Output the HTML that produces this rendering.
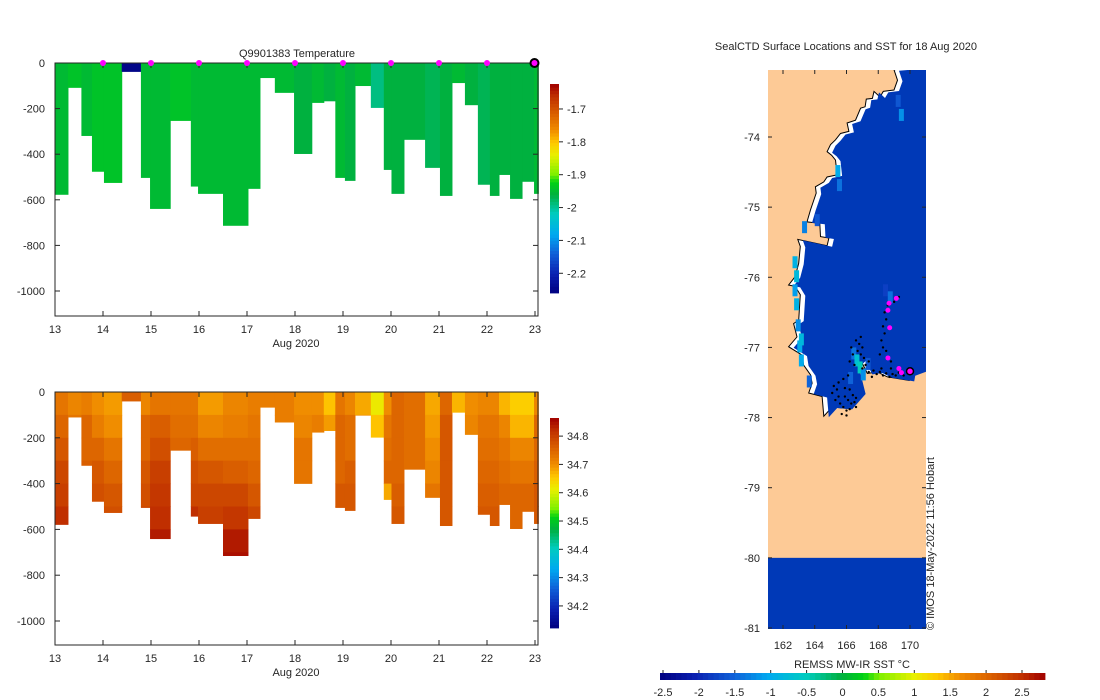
<!DOCTYPE html>
<html><head><meta charset="utf-8"><style>
body{margin:0;background:#fff;}
svg{display:block;font-family:"Liberation Sans",sans-serif;}
text{fill:#262626;font-size:11px;}
</style></head><body>
<svg id="fig" width="1100" height="700" viewBox="0 0 1100 700">
<defs><clipPath id="mapclip"><rect x="768" y="70" width="158" height="559"/></clipPath></defs>
</svg>
<script>
// ---- data ----
const colEdges = [13.006,13.27,13.55,13.77,14.02,14.39,14.79,14.98,15.40,15.83,15.98,16.50,17.02,17.27,17.58,17.98,18.35,18.60,18.84,19.04,19.25,19.58,19.85,20.01,20.27,20.71,21.02,21.27,21.54,21.81,22.06,22.25,22.48,22.73,22.98,23.07];
const colDepth = [578,109,320,477,526,39,504,640,254,542,574,714,552,66,131,399,175,168,504,517,101,197,469,574,337,460,583,88,185,534,583,491,596,521,574];
const colTemp = [-1.95,-1.94,-1.95,-1.94,-1.94,-2.25,-1.95,-1.95,-1.94,-1.95,-1.95,-1.95,-1.95,-1.95,-1.95,-1.96,-1.95,-1.96,-1.95,-1.96,-1.95,-1.99,-1.96,-1.96,-1.96,-1.97,-1.96,-1.95,-1.96,-1.97,-1.96,-1.96,-1.96,-1.96,-1.95];
const colSal = [
[34.73,34.75,34.77,34.79,34.80,34.82],[34.71,34.73],[34.72,34.75,34.75,34.76],[34.70,34.72,34.75,34.77,34.78],
[34.69,34.70,34.73,34.75,34.77,34.78],[34.76],[34.71,34.75,34.75,34.77,34.78,34.79],[34.73,34.76,34.78,34.80,34.81,34.82,34.84],
[34.73,34.74,34.75],[34.73,34.74,34.76,34.78,34.79,34.82],[34.69,34.71,34.74,34.77,34.79,34.80],[34.71,34.72,34.74,34.76,34.79,34.81,34.84,34.85],
[34.72,34.73,34.74,34.75,34.77,34.79],[34.72],[34.72,34.72],[34.70,34.71,34.73,34.73],[34.70,34.72],[34.66,34.69],
[34.73,34.75,34.75,34.75,34.77,34.77],[34.71,34.74,34.74,34.76,34.77,34.77],[34.68,34.70],[34.62,34.66],
[34.70,34.73,34.74,34.75,34.68],[34.75,34.75,34.75,34.75,34.76,34.77],[34.74,34.74,34.74,34.74],[34.68,34.69,34.70,34.71,34.73],
[34.75,34.77,34.77,34.77,34.77,34.77],[34.67],[34.70,34.71],[34.71,34.73,34.74,34.75,34.76,34.77],
[34.71,34.73,34.74,34.75,34.76,34.77],[34.67,34.71,34.73,34.74,34.75],[34.65,34.67,34.71,34.73,34.75,34.75],[34.65,34.67,34.71,34.73,34.75,34.75],
[34.71,34.75,34.75,34.76,34.77,34.77]];
const markerDays = [14,15,16,17,18,19,20,21,22];
const lastDay = 23;
const dayTicks = [13,14,15,16,17,18,19,20,21,22,23];
const depthTicks = [0,-200,-400,-600,-800,-1000];
const tempTicks = [-1.7,-1.8,-1.9,-2,-2.1,-2.2];
const salTicks = [34.8,34.7,34.6,34.5,34.4,34.3,34.2];
const latTicks = [-74,-75,-76,-77,-78,-79,-80,-81];
const lonTicks = [162,164,166,168,170];
const sstTicks = [-2.5,-2,-1.5,-1,-0.5,0,0.5,1,1.5,2,2.5];
const coastLon = [168.99,169.21,168.99,168.32,168.11,167.73,167.63,167.25,167.17,166.89,166.57,166.04,166.15,165.62,165.31,164.99,164.78,165.06,165.31,165.41,164.78,164.57,164.04,164.09,163.73,163.51,164.32,164.36,164.89,164.78,162.93,163.09,162.99,162.77,162.35,162.77,163.09,162.99,162.67,162.88,162.35,163.20,163.30,163.73,163.83,163.62,164.46,164.57,165.10,166.04,166.89,166.68,166.47,166.89,167.31,167.94,168.58,169.95,170.01,171.06];
const coastLat = [-73.04,-73.19,-73.33,-73.35,-73.43,-73.35,-73.45,-73.46,-73.57,-73.59,-73.76,-73.80,-73.92,-73.95,-74.04,-74.11,-74.21,-74.26,-74.33,-74.54,-74.57,-74.64,-74.71,-74.80,-75.04,-75.21,-75.23,-75.42,-75.44,-75.55,-75.46,-75.56,-75.80,-75.99,-76.11,-76.13,-76.25,-76.61,-76.66,-76.85,-76.99,-77.11,-77.25,-77.39,-77.51,-77.65,-77.70,-77.98,-77.85,-77.87,-77.65,-77.46,-77.27,-77.18,-77.37,-77.35,-77.42,-77.47,-77.39,-77.30];
const sstLon = [162.6,162.7,162.6,162.7,162.8,162.9,163.0,163.5,166.3,166.5,166.7,166.9,167.2,166.1,168.3,168.6,165.3,165.4,164.0,169.1,169.3,163.2,163.0];
const sstLat = [-75.7,-75.9,-76.1,-76.3,-76.6,-76.9,-77.1,-77.4,-77.0,-77.1,-77.2,-77.3,-77.15,-77.35,-76.1,-76.2,-74.4,-74.6,-75.1,-73.4,-73.6,-75.2,-76.8];
const sstVal = [-0.9,-0.8,-1.1,-0.9,-1.2,-1.0,-1.0,-1.5,-1.4,-0.7,-0.5,-1.2,-1.6,-1.5,-1.8,-1.4,-1.0,-1.4,-1.6,-1.6,-1.2,-1.3,-0.8];
const trackLon = [165.2,165.4,165.5,165.3,165.6,165.8,166.0,166.2,165.9,166.1,166.3,166.5,166.4,166.6,165.7,166.0,165.1,165.5,165.8,166.1,166.2,165.9,166.6,166.6,166.8,167.0,166.7,166.9,167.1,166.4,166.2,166.5,167.2,167.4,166.9,167.0,166.3,167.4,167.7,167.9,168.1,168.3,168.5,168.7,168.9,169.1,169.3,169.6,167.6,168.2,168.8,168.4,168.5,168.3,168.4,168.2,168.3,168.5,168.6,168.8,169.3,169.0,168.6,168.1];
const trackLat = [-77.55,-77.6,-77.7,-77.75,-77.8,-77.85,-77.9,-77.88,-77.7,-77.75,-77.8,-77.78,-77.68,-77.72,-77.95,-77.97,-77.65,-77.5,-77.45,-77.4,-77.6,-77.58,-77.85,-76.9,-76.95,-77.0,-77.05,-77.1,-77.15,-77.1,-77.2,-77.25,-77.25,-77.2,-76.85,-77.3,-77.0,-77.35,-77.33,-77.38,-77.35,-77.4,-77.37,-77.42,-77.38,-77.4,-77.36,-77.4,-77.42,-77.3,-77.3,-76.5,-76.6,-76.7,-76.8,-76.9,-77.0,-77.05,-77.15,-77.2,-76.28,-76.35,-76.4,-77.1];
const surfLon = [169.14,168.68,168.61,168.72,168.61,169.3,169.46];
const surfLat = [-76.30,-76.37,-76.47,-76.72,-77.15,-77.30,-77.36];
const latestLon = 170.0, latestLat = -77.34;

// ---- helpers ----
const NS = "http://www.w3.org/2000/svg";
const svgRoot = document.getElementById('fig');
function mk(tag, attrs, parent){ const e=document.createElementNS(NS,tag); for(const k in attrs) e.setAttribute(k,attrs[k]); (parent||svgRoot).appendChild(e); return e; }
const cstops=[[0,[0,0,128]],[0.09,[10,32,176]],[0.19,[16,96,216]],[0.28,[0,168,240]],[0.38,[0,204,192]],[0.47,[0,176,64]],[0.53,[0,210,20]],[0.57,[128,240,0]],[0.66,[232,240,0]],[0.72,[255,200,0]],[0.78,[240,140,0]],[0.85,[220,100,0]],[0.94,[192,48,0]],[1,[160,0,0]]];
function cmap(t){ t=Math.max(0,Math.min(1,t)); for(let i=1;i<cstops.length;i++){ if(t<=cstops[i][0]){ const a=cstops[i-1],b=cstops[i]; const f=(t-a[0])/(b[0]-a[0]); const c=a[1].map((v,j)=>Math.round(v+(b[1][j]-v)*f)); return `rgb(${c[0]},${c[1]},${c[2]})`; } } return 'rgb(160,0,0)'; }

function section(y0, yscale){
  const X = d => 55 + (d-13)*48;
  const Y = z => y0 + (-z)*yscale;
  return {X,Y};
}
const secTop = section(63,0.228), secBot = section(392,0.229);
const tMin=-2.26, tMax=-1.624, sMin=34.122, sMax=34.864;

const gT = mk('g',{});


for(let i=0;i<colDepth.length;i++){
  const x0=secTop.X(colEdges[i]), x1=secTop.X(colEdges[i+1]);
  const r=mk('rect',{x:x0,y:secTop.Y(0),width:x1-x0+0.5,height:secTop.Y(-colDepth[i])-secTop.Y(0),fill:cmap((colTemp[i]-tMin)/(tMax-tMin))},gT);
  
  
}
const gS = mk('g',{});


for(let i=0;i<colDepth.length;i++){
  const x0=secBot.X(colEdges[i]), x1=secBot.X(colEdges[i+1]);
  colSal[i].forEach((s,k)=>{
    const d0=k*100, d1=Math.min((k+1)*100,colDepth[i]);
    if(d1<=d0) return;
    const r=mk('rect',{x:x0,y:secBot.Y(-d0),width:x1-x0+0.5,height:secBot.Y(-d1)-secBot.Y(-d0)+0.5,fill:cmap((s-sMin)/(sMax-sMin))},gS);
    
    
  });
}
function axes(sec, y0, yb, label){
  const g=mk('g',{});
  
  
  mk('rect',{x:55,y:y0,width:483,height:yb-y0,fill:'none',stroke:'#262626','stroke-width':1},g);
  dayTicks.forEach(d=>{
    const x=sec.X(d);
    mk('line',{x1:x,x2:x,y1:yb,y2:yb-5,stroke:'#262626'},g);
    mk('line',{x1:x,x2:x,y1:y0,y2:y0+5,stroke:'#262626'},g);
    const t=mk('text',{x:x,y:yb+17,'text-anchor':'middle'},g); t.textContent=d;
    
    
  });
  depthTicks.forEach(z=>{
    const y=sec.Y(z);
    mk('line',{x1:55,x2:60,y1:y,y2:y,stroke:'#262626'},g);
    mk('line',{x1:538,x2:533,y1:y,y2:y,stroke:'#262626'},g);
    const t=mk('text',{x:45,y:y+4,'text-anchor':'end'},g); t.textContent=z;
    
    
  });
  const xl=mk('text',{x:296,y:yb+31,'text-anchor':'middle'},g); xl.textContent='Aug 2020';
  
  
}
axes(secTop,63,316,'temperature');
axes(secBot,392,645,'salinity');
const ttl=mk('text',{x:297,y:57,'text-anchor':'middle'}); ttl.textContent='Q9901383  Temperature';


markerDays.forEach(d=>{
  const c=mk('circle',{cx:secTop.X(d),cy:63,r:3,fill:'#ff00ff'});
  
  
});
const lm=mk('circle',{cx:secTop.X(lastDay)-0.5,cy:63,r:4,fill:'#ff00ff',stroke:'#000','stroke-width':2});



function vbar(yt, yb, vmin, vmax, ticks, name){
  const g=mk('g',{});
  
  
  const n=64;
  for(let i=0;i<n;i++){
    const h=(yb-yt)/n;
    mk('rect',{x:550,y:yb-(i+1)*h,width:9,height:h+0.4,fill:cmap((i+0.5)/n)},g);
  }
  ticks.forEach(v=>{
    const y=yb-(v-vmin)/(vmax-vmin)*(yb-yt);
    mk('line',{x1:559,x2:563,y1:y,y2:y,stroke:'#262626'},g);
    const t=mk('text',{x:567,y:y+4},g); t.textContent=v;
    
    
  });
}
vbar(84,293,tMin,tMax,tempTicks,'temperature-colorbar');
vbar(418,628,sMin,sMax,salTicks,'salinity-colorbar');

// ---- map ----
const LX = lon => 783 + (lon-162)*15.875;
const LY = lat => 137 + (-74-lat)*70.14;
const sMinC=-2.54, sMaxC=2.82;
const gm=mk('g',{'clip-path':'url(#mapclip)'});


mk('rect',{x:768,y:70,width:158,height:559,fill:'#fdca96'},gm);
const pts=coastLon.map((l,i)=>LX(l).toFixed(1)+','+LY(coastLat[i]).toFixed(1)).join(' ')+` ${LX(171.2)},${LY(-73.0)}`;
const coast=mk('polygon',{points:pts,fill:'#fff',stroke:'#000','stroke-width':1},gm);


const ocean=mk('polygon',{points:pts,fill:'#0039b7',transform:'translate(5,1)'},gm);


sstLon.forEach((l,i)=>{
  const c=mk('rect',{x:LX(l),y:LY(sstLat[i]),width:5,height:12,fill:cmap((sstVal[i]-sMinC)/(sMaxC-sMinC))},gm);
  
  
});
const band=mk('rect',{x:768,y:LY(-80),width:158,height:LY(-81.02)-LY(-80),fill:'#0039b7'},gm);


trackLon.forEach((l,i)=>{
  const c=mk('circle',{cx:LX(l),cy:LY(trackLat[i]),r:1.2,fill:'#000'},gm);
  
  
});
surfLon.forEach((l,i)=>{
  const c=mk('circle',{cx:LX(l),cy:LY(surfLat[i]),r:2.5,fill:'#ff00ff'},gm);
  
  
});
const ll=mk('circle',{cx:LX(latestLon),cy:LY(latestLat),r:3.5,fill:'#ff00ff',stroke:'#000','stroke-width':1.5},gm);


latTicks.forEach(v=>{
  const y=LY(v);
  mk('line',{x1:768,x2:772,y1:y,y2:y,stroke:'#262626'});
  mk('line',{x1:926,x2:922,y1:y,y2:y,stroke:'#262626'});
  const t=mk('text',{x:760,y:y+4,'text-anchor':'end'}); t.textContent=v;
  
  
});
lonTicks.forEach(v=>{
  const x=LX(v);
  mk('line',{x1:x,x2:x,y1:629,y2:625,stroke:'#262626'});
  mk('line',{x1:x,x2:x,y1:70,y2:74,stroke:'#262626'});
  const t=mk('text',{x:x,y:649,'text-anchor':'middle'}); t.textContent=v;
  
  
});
const mt=mk('text',{x:846,y:50,'text-anchor':'middle'}); mt.textContent='SealCTD Surface Locations and SST for 18 Aug 2020';


const cr=mk('text',{x:934,y:630,transform:'rotate(-90 934 630)','font-size':'9.5'}); cr.textContent='© IMOS 18-May-2022 11:56 Hobart';


const gh=mk('g',{});


const HX = v => 663 + (v+2.5)*71.8;
for(let i=0;i<72;i++){
  const w=385/72;
  mk('rect',{x:660+i*w,y:673,width:w+0.4,height:7,fill:cmap((i+0.5)/72)},gh);
}
sstTicks.forEach(v=>{
  const x=HX(v);
  mk('line',{x1:x,x2:x,y1:673,y2:670,stroke:'#262626'},gh);
  const t=mk('text',{x:x,y:696,'text-anchor':'middle'},gh); t.textContent=v;
  
  
});
const hl=mk('text',{x:852,y:668,'text-anchor':'middle'}); hl.textContent='REMSS MW-IR SST °C';


</script>
</body></html>
